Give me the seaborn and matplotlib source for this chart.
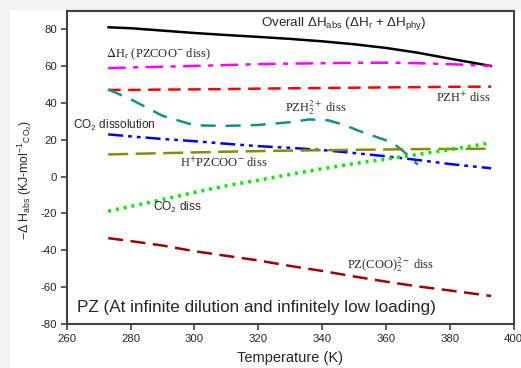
import matplotlib
matplotlib.use("Agg")
import matplotlib.pyplot as plt
import seaborn as sns
import pandas as pd
from matplotlib.patches import Rectangle

# Temperatures (K) and enthalpy contributions (kJ/mol CO2)
temp = [273, 280, 290, 300, 310, 320, 330, 340, 350, 360, 370, 380, 393]
overall = [81, 80.5, 79.2, 77.9, 76.8, 75.8, 74.7, 73.4, 71.8, 69.8, 67.2, 64.0, 60.0]
dh_r = [58.8, 59.2, 59.6, 60.0, 60.5, 61.0, 61.3, 61.5, 61.7, 61.8, 61.5, 61.0, 60.0]
pzh = [47.0, 47.0, 47.2, 47.3, 47.5, 47.7, 47.9, 48.0, 48.2, 48.4, 48.5, 48.7, 48.8]
h_pzcoo = [12.0, 12.3, 12.7, 13.1, 13.5, 13.8, 14.1, 14.3, 14.5, 14.7, 14.9, 15.0, 15.1]
blue_co2 = [22.9, 21.8, 20.4, 19.2, 17.8, 16.5, 15.6, 14.4, 12.8, 11.0, 9.0, 6.8, 4.5]
co2_diss = [-18.8, -16.2, -12.5, -8.6, -5.0, -2.0, 1.2, 4.2, 7.0, 9.4, 12.0, 14.6, 18.3]
pz_coo2 = [-33.4, -35.0, -37.4, -40.5, -43.0, -45.5, -48.5, -51.2, -54.2, -57.0, -59.6, -61.8, -64.8]

temp_pzh2 = [273, 280, 290, 300, 310, 320, 330, 336, 342, 347, 352, 357, 362, 366, 370]
pzh2 = [47.3, 42.0, 33.0, 27.8, 27.5, 28.0, 29.5, 31.0, 30.5, 28.0, 24.5, 21.5, 18.5, 13.0, 6.5]

series = [
    (temp, overall, "black", "-", 1.8),
    (temp, dh_r, "#ff00ff", (0, (7, 3, 2, 3)), 1.8),
    (temp, pzh, "#ff0000", (0, (5, 3)), 1.8),
    (temp_pzh2, pzh2, "#119090", (0, (6, 4)), 1.8),
    (temp, blue_co2, "#0000ff", (0, (6, 2, 1.5, 2, 1.5, 2)), 1.8),
    (temp, h_pzcoo, "#8b8b00", (0, (8, 3)), 1.8),
    (temp, co2_diss, "#00ee00", (0, (0.8, 1.4)), 2.6),
    (temp, pz_coo2, "#a00000", (0, (6, 3)), 1.8),
]

sns.set_style("ticks")
plt.rcParams["font.family"] = ["Liberation Sans", "DejaVu Sans"]
plt.rcParams["mathtext.fontset"] = "custom"
plt.rcParams["mathtext.rm"] = "Liberation Sans"
plt.rcParams["mathtext.it"] = "Liberation Sans"
plt.rcParams["axes.unicode_minus"] = False

fig = plt.figure(figsize=(5.21, 3.68), dpi=100, facecolor="#f2f2f2")
fig.patches.append(Rectangle((10 / 521, 0), 1, 1 - 10 / 368, transform=fig.transFigure,
                             facecolor="white", edgecolor="none", zorder=-1))
ax = fig.add_axes([66.7 / 521, 44 / 368, (513.5 - 66.7) / 521, (324 - 10.7) / 368])

for x, y, color, ls, lw in series:
    df = pd.DataFrame({"T": x, "H": y})
    sns.lineplot(data=df, x="T", y="H", color=color, linestyle=ls, linewidth=lw, ax=ax)

ax.set_xlim(260, 400)
ax.set_ylim(-80, 90)
ax.set_xticks(range(260, 401, 20))
ax.set_yticks(range(-80, 81, 20))
ax.tick_params(direction="out", length=4, width=1.2, color="#404040", labelsize=8.2, pad=3)
for s in ax.spines.values():
    s.set_color("#404040")
    s.set_linewidth(1.5)
ax.set_xlabel("Temperature (K)", fontsize=10.5, labelpad=5)
ax.set_ylabel("")
fig.text(25 / 521, 1 - 180 / 368, r"$-\Delta$ H$_{\rm abs}$ (KJ-mol$^{-1}$$_{\rm CO_2}$)",
         rotation=90, ha="center", va="center", fontsize=8.8)

serif = dict(family=["Liberation Serif", "DejaVu Serif"], math_fontfamily="stix",
             fontsize=9, va="center")
ax.text(321, 83, r"Overall $\Delta$H$_{\rm abs}$ ($\Delta$H$_{\rm r}$ + $\Delta$H$_{\rm phy}$)",
        fontsize=9.6, va="center", ha="left")
ax.text(272.3, 66.5, r"$\Delta$H$_{\rm r}$ (PZCOO$^{-}$ diss)", **serif)
ax.text(392.8, 43, r"PZH$^{+}$ diss", ha="right", **serif)
ax.text(338, 37.6, r"PZH$_2^{2+}$ diss", ha="center", **serif)
ax.text(261.9, 28, r"CO$_2$ dissolution", fontsize=8.5, va="center")
ax.text(295.5, 7.6, r"H$^{+}$PZCOO$^{-}$ diss", **serif)
ax.text(287, -16.7, r"CO$_2$ diss", fontsize=8.6, va="center")
ax.text(347.7, -47.9, r"PZ(COO)$_2^{2-}$ diss", **serif)
ax.text(263.2, -71.3, "PZ (At infinite dilution and infinitely low loading)", fontsize=12.3, va="center")

fig.savefig("out.png", dpi=100, facecolor=fig.get_facecolor())
